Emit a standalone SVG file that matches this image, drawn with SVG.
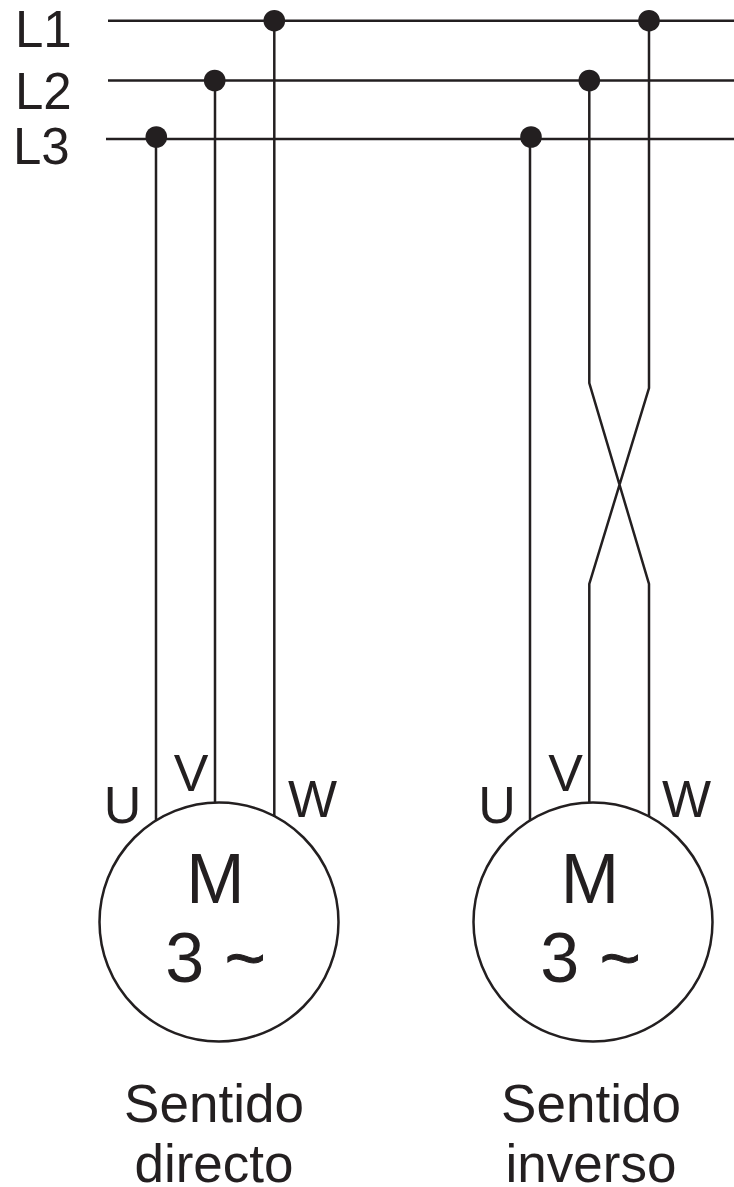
<svg xmlns="http://www.w3.org/2000/svg" width="734" height="1187" viewBox="0 0 734 1187">
<style>
text{font-family:"Liberation Sans",Arial,sans-serif;fill:#231f20;text-anchor:middle}
.w{fill:none;stroke:#231f20;stroke-width:2.5}
.d{fill:#231f20}
.l{font-size:51px;text-anchor:start}
.t{font-size:52px}
.m{font-size:70px}
.n{font-size:70px}
.g{stroke:#231f20;stroke-width:1}
.c{font-size:53px}
</style>
<rect width="734" height="1187" fill="#fff"/>
<g id="connectors">
<path class="w" d="M108 20.700H734M108 80.500H734M106 139H734"/>
<path class="w" d="M156 139V821M215 80V803M274.300 21V817"/>
<path class="w" d="M530 139V821M589.300 80V383L649 584V817M649 21V388L589.300 584V803"/>
<circle class="d" cx="156.300" cy="137" r="10.800"/>
<circle class="d" cx="214.700" cy="80.500" r="10.800"/>
<circle class="d" cx="274.300" cy="20.700" r="10.800"/>
<circle class="d" cx="531" cy="137" r="10.800"/>
<circle class="d" cx="589.300" cy="80.500" r="10.800"/>
<circle class="d" cx="649" cy="20.700" r="10.800"/>
</g>
<g id="labels">
<text class="l" x="15" y="47">L1</text>
<text class="l" x="15" y="108.500">L2</text>
<text class="l" x="13" y="164">L3</text>
</g>
<g id="motor-directo">
<circle class="w" cx="219" cy="922" r="119.500"/>
<text class="t" x="122.500" y="823">U</text>
<text class="t" x="191" y="790.500">V</text>
<text class="t" x="312.500" y="816.500">W</text>
<text class="m" x="215.400" y="903">M</text>
<text class="n" x="215.500" y="982" xml:space="preserve">3 <tspan class="g" dx="1">~</tspan></text>
</g>
<g id="motor-inverso">
<circle class="w" cx="593" cy="922" r="119.500"/>
<text class="t" x="497" y="823">U</text>
<text class="t" x="565.500" y="790.500">V</text>
<text class="t" x="686.500" y="816.500">W</text>
<text class="m" x="590" y="903">M</text>
<text class="n" x="590.500" y="982" xml:space="preserve">3 <tspan class="g" dx="1">~</tspan></text>
</g>
<g id="captions">
<text class="c" x="214" y="1122">Sentido</text>
<text class="c" x="214" y="1182">directo</text>
<text class="c" x="591" y="1122">Sentido</text>
<text class="c" x="591" y="1182">inverso</text>
</g>
</svg>
